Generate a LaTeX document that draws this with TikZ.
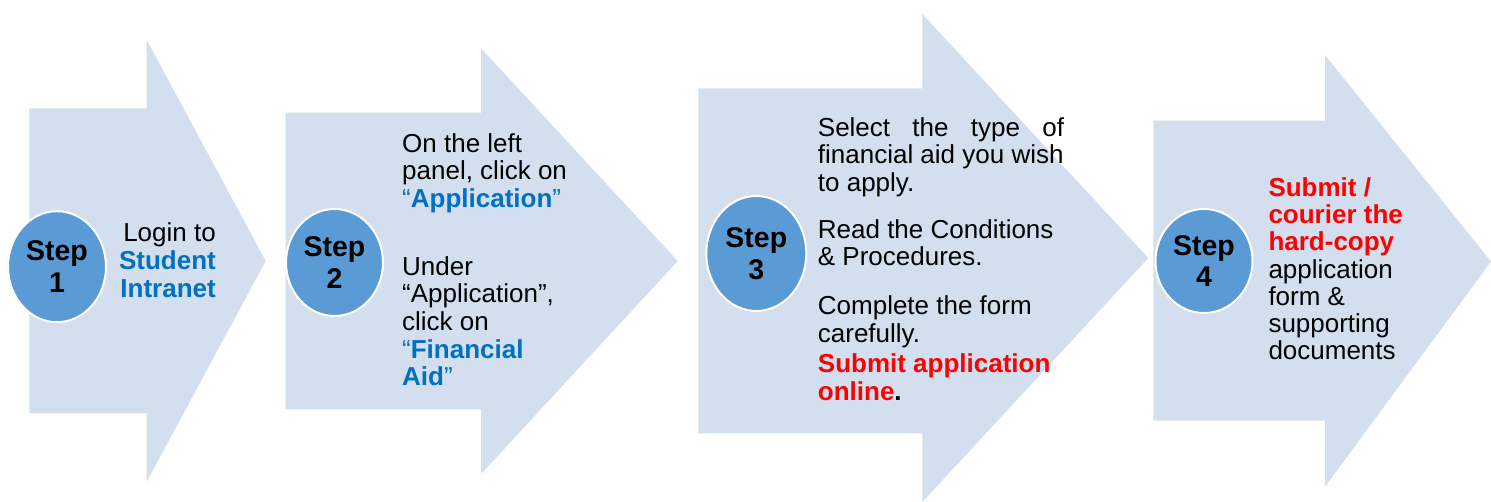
\documentclass[tikz,border=0pt]{standalone}
\usepackage{fontspec}
\setmainfont{Liberation Sans}
\usetikzlibrary{shapes.geometric}
\definecolor{arrowfill}{HTML}{D3DFEE}
\definecolor{circfill}{HTML}{5B9BD5}
\definecolor{tblue}{HTML}{0070C0}
\definecolor{tred}{HTML}{FF0000}
\begin{document}
\begin{tikzpicture}[x=1pt,y=-1pt,
  bigarrow/.style={fill=arrowfill},
  stepcirc/.style={ellipse, fill=circfill, draw=white, line width=2pt, inner sep=0pt, align=center,
     font=\fontsize{28.5}{31.5}\selectfont\bfseries},
  txt/.style={anchor=base west, inner sep=0pt, font=\fontsize{26}{27.5}\selectfont},
  txtr/.style={txt, anchor=base east},
  bb/.style={font=\fontsize{26}{27.5}\selectfont\bfseries, text=tblue},
  br/.style={font=\fontsize{26}{27.5}\selectfont\bfseries, text=tred}]
\useasboundingbox (0,0) rectangle (1491,502);
% arrows
\fill[bigarrow] (29.3,108.3) -- (146.7,108.3) -- (146.7,40) -- (265.7,261) -- (146.7,481.7) -- (146.7,413.3) -- (29.3,413.3) -- cycle;
\fill[bigarrow] (285.7,112.7) -- (481,112.7) -- (481,48.3) -- (677.7,261) -- (481,474) -- (481,409.3) -- (285.7,409.3) -- cycle;
\fill[bigarrow] (698.3,88.3) -- (922.3,88.3) -- (922.3,14) -- (1148.3,258) -- (922.3,502) -- (922.3,433.3) -- (698.3,433.3) -- cycle;
\fill[bigarrow] (1153.3,120.7) -- (1325,120.7) -- (1325,55) -- (1491,261.5) -- (1325,486.7) -- (1325,420.7) -- (1153.3,420.7) -- cycle;
% step circles
\node[stepcirc, minimum width=98pt, minimum height=111pt] (c1) at (57,266.7) {Step\\1};
\node[stepcirc, minimum width=97pt, minimum height=107pt] (c2) at (334.5,262.5) {Step\\2};
\node[stepcirc, minimum width=100pt, minimum height=115pt] (c3) at (756.3,253.5) {Step\\3};
\node[stepcirc, minimum width=97pt, minimum height=104pt] (c4) at (1204,261) {Step\\4};
% step 1 text
\node[txtr] (t1a) at (216,241.7) {Login to};
\node[txtr, bb] (t1b) at (216,269.3) {Student};
\node[txtr, bb] (t1c) at (216,297.3) {Intranet};
% step 2 text
\node[txt] (t2a) at (402,152.7) {On the left};
\node[txt] (t2b) at (402,180) {panel, click on};
\node[txt, text=tblue] (t2c) at (402,207.3) {“\textbf{Application}”};
\node[txt] (t2d) at (402,276) {Under};
\node[txt] (t2e) at (402,302.7) {“Application”,};
\node[txt] (t2f) at (402,331) {click on};
\node[txt, text=tblue] (t2g) at (402,358.3) {“\textbf{Financial}};
\node[txt, text=tblue] (t2h) at (402,386) {\textbf{Aid}”};
% step 3 text
\node[txt] (t3a) at (817.7,136.7) {\hbox to 246.3pt{Select\hfill the\hfill type\hfill of}};
\node[txt] (t3b) at (817.7,164) {financial aid you wish};
\node[txt] (t3c) at (817.7,191.7) {to apply.};
\node[txt] (t3d) at (817.7,238.3) {Read the Conditions};
\node[txt] (t3e) at (817.7,265.7) {\& Procedures.};
\node[txt] (t3f) at (817.7,315) {Complete the form};
\node[txt] (t3g) at (817.7,342.3) {carefully.};
\node[txt, br] (t3h) at (817.7,372.7) {Submit application};
\node[txt] (t3i) at (817.7,400) {\textbf{\textcolor{tred}{online}.}};
% step 4 text
\node[txt, br] (t4a) at (1268.3,196.7) {Submit /};
\node[txt, br] (t4b) at (1268.3,223.3) {courier the};
\node[txt, br] (t4c) at (1268.3,250.7) {hard-copy};
\node[txt] (t4d) at (1268.3,278.3) {application};
\node[txt] (t4e) at (1268.3,305.7) {form \&};
\node[txt] (t4f) at (1268.3,332.7) {supporting};
\node[txt] (t4g) at (1268.3,360) {documents};
\end{tikzpicture}
\end{document}
